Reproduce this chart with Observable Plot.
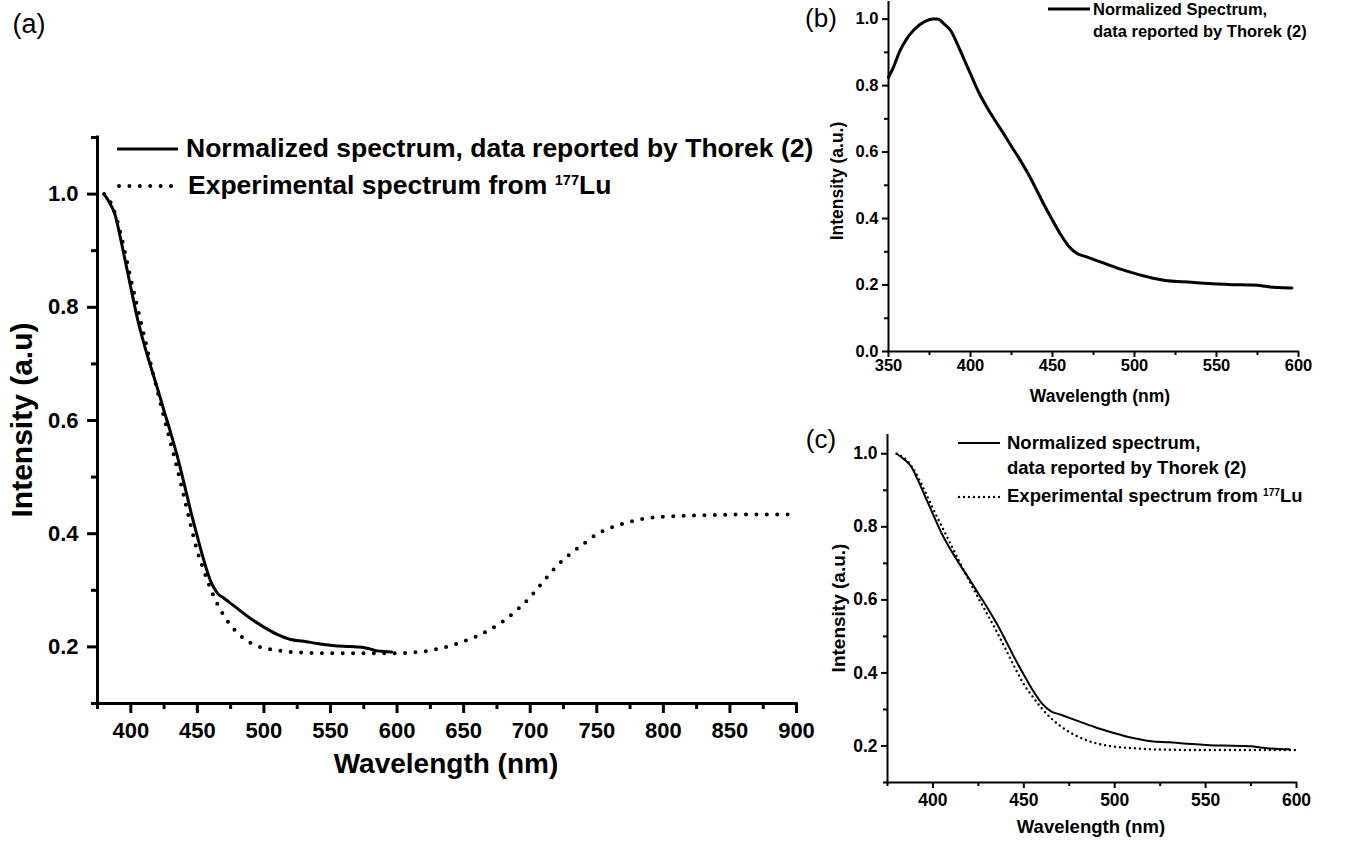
<!DOCTYPE html>
<html><head><meta charset="utf-8">
<script src="https://cdn.jsdelivr.net/npm/d3@7"></script>
<script src="https://cdn.jsdelivr.net/npm/@observablehq/plot@0.6"></script>
<style>
body{margin:0;background:#fff;}
#root{position:relative;width:1348px;height:841px;overflow:hidden;font-family:"Liberation Sans",Arial,sans-serif;color:#000;background:#fff;}
.abs{position:absolute;white-space:nowrap;line-height:1;}
.c{transform:translate(-50%,-50%);}
.r{transform:translate(-50%,-50%) rotate(-90deg);}
.l{transform:translate(0,-50%);}
.sup{font-size:0.55em;position:relative;top:-0.62em;}
.panel{position:absolute;}
</style></head><body><div id="root"></div>
<script>
// ---------- data ----------
const thorekWavelength = [350,353,357,361,365,369,373,377,380,384,388,392,396,400,405,410,415,420,425,430,435,440,445,450,455,460,465,470,475,480,490,500,510,520,530,540,550,560,570,575,580,585,590,596];
const thorekIntensity = [0.825,0.855,0.905,0.94,0.965,0.983,0.995,1.0,1.0,0.985,0.965,0.925,0.88,0.835,0.78,0.735,0.695,0.657,0.617,0.578,0.536,0.489,0.44,0.395,0.352,0.316,0.295,0.286,0.277,0.268,0.25,0.235,0.222,0.213,0.21,0.206,0.203,0.201,0.2,0.199,0.196,0.193,0.192,0.191];
const luWavelength = [380,385,390,395,400,405,410,415,420,425,430,435,440,445,450,455,460,465,470,475,480,490,500,510,520,530,540,560,580,600,610,620,630,640,650,660,670,680,690,700,710,720,730,740,750,760,770,780,790,800,820,840,860,880,900];
const luIntensity = [1.0,0.985,0.952,0.904,0.85,0.80,0.75,0.70,0.652,0.605,0.56,0.514,0.465,0.415,0.369,0.334,0.302,0.276,0.255,0.238,0.225,0.207,0.198,0.194,0.191,0.19,0.189,0.189,0.189,0.189,0.19,0.192,0.196,0.202,0.21,0.219,0.231,0.246,0.265,0.288,0.316,0.343,0.364,0.382,0.399,0.41,0.418,0.424,0.428,0.43,0.432,0.433,0.434,0.434,0.434];

// tick values
const xMajorA = [400,450,500,550,600,650,700,750,800,850,900];
const xMinorA = [375,425,475,525,575,625,675,725,775,825,875];
const yMajorA = [0.2,0.4,0.6,0.8,1.0];
const yMinorA = [0.1,0.3,0.5,0.7,0.9,1.1];
const xMajorB = [350,400,450,500,550,600];
const xMinorB = [375,425,475,525,575];
const yMajorB = [0.0,0.2,0.4,0.6,0.8,1.0];
const yMinorB = [0.1,0.3,0.5,0.7,0.9];
const xMajorC = [400,450,500,550,600];
const xMinorC = [375,425,475,525,575];
const yMajorC = [0.2,0.4,0.6,0.8,1.0];
const yMinorC = [0.1,0.3,0.5,0.7,0.9];

// text
const legendThorek = "Normalized spectrum, data reported by Thorek (2)";
const legendLu = "Experimental spectrum from ";
const xTitle = "Wavelength (nm)";

// ---------- build ----------
const thorek = thorekWavelength.map((w, i) => ({w, v: thorekIntensity[i]}));
const thorek380 = thorek.filter(d => d.w >= 380);
const lu = luWavelength.map((w, i) => ({w, v: luIntensity[i]}));

const root = document.getElementById("root");
const fmt = d3.format(".1f");

function panel(cfg) {
  const marks = [
    Plot.axisX(cfg.xMajor, {tickSize: cfg.major, tickPadding: cfg.xPad, strokeWidth: cfg.aw, fontSize: cfg.tf, fontWeight: "bold", tickFormat: d => String(d), label: null}),
    Plot.axisX(cfg.xMinor, {tickSize: cfg.minor, strokeWidth: cfg.aw, tickFormat: () => "", label: null}),
    Plot.axisY(cfg.yMajor, {tickSize: cfg.major, tickPadding: cfg.yPad, strokeWidth: cfg.aw, fontSize: cfg.tf, fontWeight: "bold", tickFormat: fmt, label: null}),
    Plot.axisY(cfg.yMinor, {tickSize: cfg.minor, strokeWidth: cfg.aw, tickFormat: () => "", label: null}),
    Plot.ruleY([cfg.y[0]], {strokeWidth: cfg.aw, strokeLinecap: "square"}),
    Plot.ruleX([cfg.x[0]], {strokeWidth: cfg.aw, strokeLinecap: "square"}),
    ...cfg.lines
  ];
  const svg = Plot.plot({
    width: cfg.width, height: cfg.height,
    marginLeft: cfg.ml, marginRight: cfg.mr, marginTop: cfg.mt, marginBottom: cfg.mb,
    x: {domain: cfg.x}, y: {domain: cfg.y},
    style: {fontFamily: "'Liberation Sans', Arial, sans-serif", color: "black", background: "transparent", overflow: "visible"},
    marks
  });
  const wrap = document.createElement("div");
  wrap.className = "panel";
  wrap.style.left = cfg.left + "px";
  wrap.style.top = cfg.top + "px";
  wrap.appendChild(svg);
  root.appendChild(wrap);
}

// (a)
panel({
  left: 0, top: 100, width: 820, height: 700, ml: 97, mr: 24, mt: 37, mb: 97,
  x: [375, 900], y: [0.1, 1.1],
  xMajor: xMajorA, xMinor: xMinorA, yMajor: yMajorA, yMinor: yMinorA,
  major: 10, minor: 6, aw: 3, tf: 22, xPad: 9, yPad: 9,
  lines: [
    Plot.line(thorek380, {x: "w", y: "v", strokeWidth: 3, curve: "monotone-x"}),
    Plot.line(lu, {x: "w", y: "v", strokeWidth: 4, strokeDasharray: "0 10.4", strokeLinecap: "round", curve: "monotone-x"})
  ]
});
// (b)
panel({
  left: 800, top: 0, width: 548, height: 420, ml: 88, mr: 50, mt: 2, mb: 69,
  x: [350, 600], y: [0, 1.05],
  xMajor: xMajorB, xMinor: xMinorB, yMajor: yMajorB, yMinor: yMinorB,
  major: 6, minor: 4, aw: 2, tf: 16.5, xPad: 2, yPad: 4,
  lines: [
    Plot.line(thorek, {x: "w", y: "v", strokeWidth: 3, curve: "monotone-x"})
  ]
});
// (c)
panel({
  left: 800, top: 420, width: 548, height: 421, ml: 87, mr: 52, mt: 15, mb: 59,
  x: [375, 600], y: [0.1, 1.05],
  xMajor: xMajorC, xMinor: xMinorC, yMajor: yMajorC, yMinor: yMinorC,
  major: 6, minor: 4, aw: 2, tf: 17.5, xPad: 5, yPad: 4,
  lines: [
    Plot.line(thorek380, {x: "w", y: "v", strokeWidth: 2, curve: "monotone-x"}),
    Plot.line(lu.filter(d => d.w <= 600), {x: "w", y: "v", strokeWidth: 2.4, strokeDasharray: "0 5", strokeLinecap: "round", curve: "monotone-x"})
  ]
});

// ---------- text overlays ----------
function txt(html, x, y, cls, size, weight) {
  const d = document.createElement("div");
  d.className = "abs " + cls;
  d.style.left = x + "px";
  d.style.top = y + "px";
  d.style.fontSize = size + "px";
  d.style.fontWeight = weight || "bold";
  d.innerHTML = html;
  root.appendChild(d);
}
// panel letters
txt("(a)", 29, 24, "c", 27, "normal");
txt("(b)", 821, 18, "c", 26, "normal");
txt("(c)", 821, 439, "c", 26, "normal");
// axis titles
txt(xTitle, 446, 764, "c", 28);
txt("Intensity (a.u)", 22, 420, "r", 30);
txt(xTitle, 1100, 397, "c", 17.5);
txt("Intensity (a.u.)", 838, 181, "r", 17.5);
txt(xTitle, 1091, 827, "c", 18.5);
txt("Intensity (a.u.)", 838, 608, "r", 19);
// legends
txt(legendThorek, 186, 148, "l", 26.5);
txt(legendLu + '<span class="sup">177</span>Lu', 188, 185, "l", 26.5);
txt("Normalized Spectrum,", 1093, 9, "l", 16.5);
txt("data reported by Thorek (2)", 1093, 31, "l", 16.5);
txt("Normalized spectrum,", 1007, 443, "l", 18.5);
txt("data reported by Thorek (2)", 1007, 468, "l", 18.5);
txt(legendLu + '<span class="sup">177</span>Lu', 1007, 496, "l", 18.5);

// legend swatches
const ns = "http://www.w3.org/2000/svg";
const ov = document.createElementNS(ns, "svg");
ov.setAttribute("width", 1348); ov.setAttribute("height", 841);
ov.style.position = "absolute"; ov.style.left = "0"; ov.style.top = "0"; ov.style.pointerEvents = "none";
function sw(x1, x2, y, w, dash) {
  const l = document.createElementNS(ns, "line");
  l.setAttribute("x1", x1); l.setAttribute("x2", x2); l.setAttribute("y1", y); l.setAttribute("y2", y);
  l.setAttribute("stroke", "black"); l.setAttribute("stroke-width", w);
  if (dash) { l.setAttribute("stroke-dasharray", dash); l.setAttribute("stroke-linecap", "round"); }
  ov.appendChild(l);
}
sw(117, 178, 149, 3);
sw(119, 176, 186, 4, "0 10.4");
sw(1048, 1090, 9, 3);
sw(958, 1000, 443, 2);
sw(959, 1000, 497, 2.4, "0 5");
root.appendChild(ov);
</script>
</body></html>
